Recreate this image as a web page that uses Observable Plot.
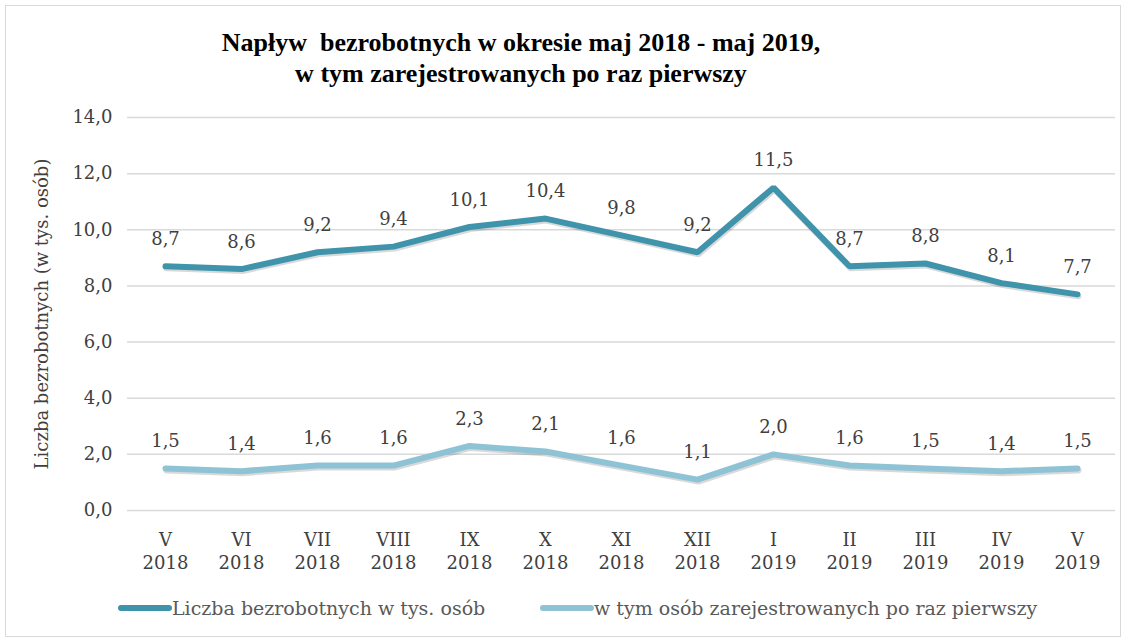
<!DOCTYPE html>
<html>
<head>
<meta charset="utf-8">
<script src="https://cdn.jsdelivr.net/npm/d3@7"></script>
<script src="https://cdn.jsdelivr.net/npm/@observablehq/plot@0.6"></script>
<style>
  html, body { margin: 0; padding: 0; background: #fff; }
  #wrap { position: relative; width: 1129px; height: 641px; overflow: hidden; }
  #frame { position: absolute; left: 5px; top: 5px; width: 1116px; height: 632px; border: 1.5px solid #d9d9d9; box-sizing: border-box; }
  #title { position: absolute; left: 0; top: 27px; width: 1042px; text-align: center; font-family: "Liberation Serif", serif; font-weight: bold; font-size: 26px; line-height: 31px; color: #000; }
  #chart { position: absolute; left: 0; top: 95px; }
  #legend { position: absolute; top: 597px; left: 0; width: 1129px; height: 26px; font-family: "DejaVu Serif", serif; font-size: 19px; color: #595959; }
  .item { position: absolute; display: flex; align-items: center; }
  .sw { width: 54px; height: 6px; border-radius: 3px; }
</style>
</head>
<body>
<div id="wrap">
  <div id="frame"></div>
  <div id="title">Napływ&nbsp; bezrobotnych w okresie maj 2018 - maj 2019,<br>w tym zarejestrowanych po raz pierwszy</div>
  <div id="chart"></div>
  <div id="legend"></div>
</div>
<script>
const months = ["V", "VI", "VII", "VIII", "IX", "X", "XI", "XII", "I", "II", "III", "IV", "V"];
const years = ["2018", "2018", "2018", "2018", "2018", "2018", "2018", "2018", "2019", "2019", "2019", "2019", "2019"];
const total = [8.7, 8.6, 9.2, 9.4, 10.1, 10.4, 9.8, 9.2, 11.5, 8.7, 8.8, 8.1, 7.7];
const firstTime = [1.5, 1.4, 1.6, 1.6, 2.3, 2.1, 1.6, 1.1, 2.0, 1.6, 1.5, 1.4, 1.5];
const seriesNames = ["Liczba bezrobotnych w tys. osób", "w tym osób zarejestrowanych po raz pierwszy"];
const seriesColors = ["#3f93ab", "#8ec3d6"];
const yTicks = [0, 2, 4, 6, 8, 10, 12, 14];

const cats = months.map((m, i) => m + "\n" + years[i]);
const rows = [];
cats.forEach((c, i) => {
  rows.push({cat: c, value: total[i], series: seriesNames[0]});
  rows.push({cat: c, value: firstTime[i], series: seriesNames[1]});
});
const fmt = v => v.toFixed(1).replace(".", ",");

const chart = Plot.plot({
  width: 1129,
  height: 490,
  marginLeft: 127,
  marginRight: 14,
  marginTop: 22,
  marginBottom: 75,
  style: {fontFamily: "DejaVu Serif, serif", fontSize: "18px", color: "#404040", background: "transparent"},
  x: {type: "point", domain: cats, padding: 0.5, label: null},
  y: {domain: [0, 14], ticks: yTicks, label: null},
  color: {domain: seriesNames, range: seriesColors},
  marks: [
    Plot.gridY(yTicks, {stroke: "#d9d9d9", strokeOpacity: 1, strokeWidth: 1.5}),
    Plot.axisY(yTicks, {tickSize: 0, tickPadding: 15, tickFormat: fmt, fontSize: 18, fill: "#404040"}),
    Plot.axisX({tickSize: 0, tickPadding: 20, fontSize: 18, fill: "#404040", lineHeight: 1.25}),
    Plot.text(["Liczba bezrobotnych (w tys. osób)"], {frameAnchor: "left", textAnchor: "middle", dx: -85, rotate: -90, fontSize: 18, fill: "#404040"}),
    Plot.line(rows, {x: "cat", y: "value", z: "series", stroke: "#000", strokeOpacity: 0.15, strokeWidth: 6, dx: 1, dy: 2}),
    Plot.line(rows, {x: "cat", y: "value", z: "series", stroke: "series", strokeWidth: 6, strokeLinejoin: "miter", strokeLinecap: "round"}),
    Plot.text(rows, {x: "cat", y: "value", text: d => fmt(d.value), dy: -27, fontSize: 18, fill: "#404040"})
  ]
});
document.getElementById("chart").appendChild(chart);

const legend = document.getElementById("legend");
const lefts = [118, 540];
seriesNames.forEach((n, i) => {
  const it = document.createElement("div");
  it.className = "item";
  it.style.left = lefts[i] + "px";
  it.innerHTML = `<span class="sw" style="background:${seriesColors[i]}"></span><span>${n}</span>`;
  legend.appendChild(it);
});
</script>
</body>
</html>
